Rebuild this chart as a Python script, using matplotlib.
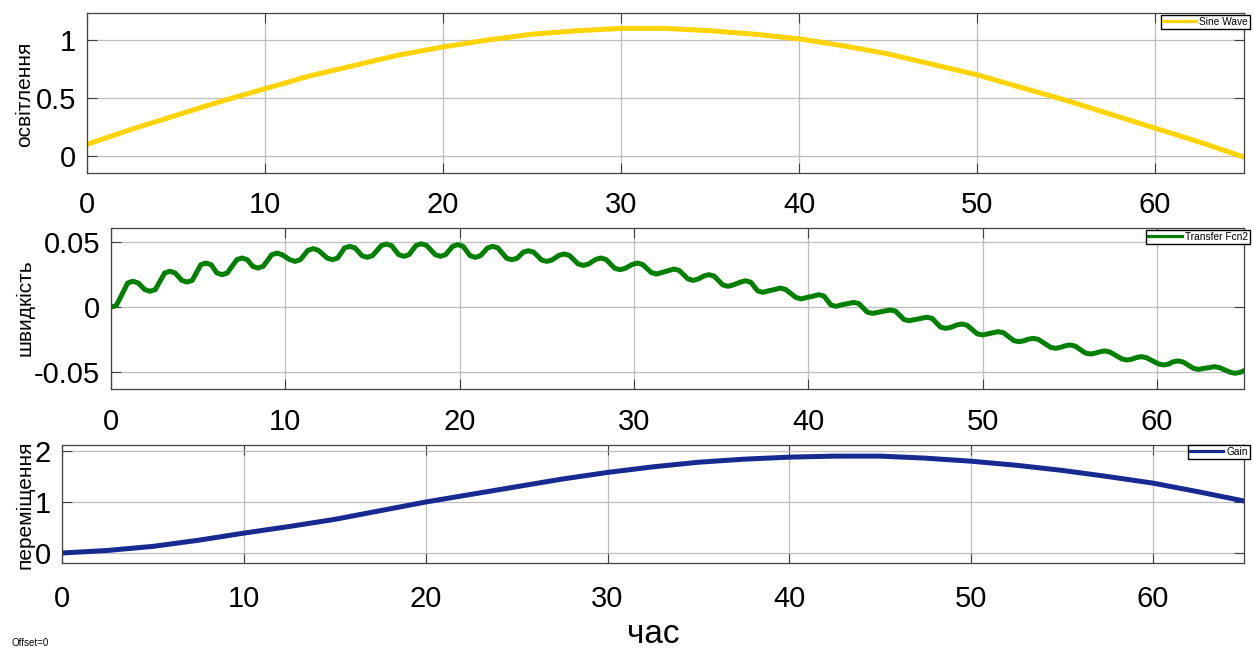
import numpy as np
import matplotlib
matplotlib.use("Agg")
import matplotlib.pyplot as plt

plt.rcParams["font.family"] = ["Liberation Sans", "DejaVu Sans"]

# illumination (Sine Wave), read every 2.5 time units
light_t = np.arange(0, 65.1, 2.5)
light_v = [0.10, 0.23, 0.35, 0.47, 0.58, 0.69, 0.78, 0.87, 0.94, 1.00,
           1.05, 1.08, 1.10, 1.10, 1.08, 1.05, 1.01, 0.95, 0.88, 0.79,
           0.70, 0.59, 0.48, 0.36, 0.24, 0.12, -0.01]

# speed (Transfer Fcn2): ripple peaks/troughs with their shoulders
speed_pts = [
    (0.0, 0.0), (0.3, 0.001),
    (0.96, 0.0185), (1.26, 0.0198), (1.56, 0.0185),
    (1.94, 0.0134), (2.24, 0.0121), (2.54, 0.0134),
    (3.08, 0.0262), (3.38, 0.0275), (3.68, 0.0262),
    (4.06, 0.0205), (4.36, 0.0192), (4.66, 0.0205),
    (5.15, 0.0325), (5.45, 0.0338), (5.75, 0.0325),
    (6.07, 0.0262), (6.37, 0.0249), (6.67, 0.0262),
    (7.22, 0.0364), (7.52, 0.0377), (7.82, 0.0364),
    (8.13, 0.0313), (8.43, 0.0300), (8.73, 0.0313),
    (9.22, 0.0402), (9.52, 0.0415), (9.82, 0.0402),
    (10.26, 0.0364), (10.56, 0.0351), (10.86, 0.0364),
    (11.3, 0.0436), (11.6, 0.0449), (11.9, 0.0436),
    (12.4, 0.0377), (12.7, 0.0364), (13.0, 0.0377),
    (13.4, 0.0454), (13.7, 0.0467), (14.0, 0.0454),
    (14.4, 0.0395), (14.7, 0.0382), (15.0, 0.0395),
    (15.5, 0.0472), (15.8, 0.0485), (16.1, 0.0472),
    (16.5, 0.0403), (16.8, 0.0390), (17.1, 0.0403),
    (17.5, 0.0474), (17.8, 0.0487), (18.1, 0.0474),
    (18.6, 0.0403), (18.9, 0.0390), (19.2, 0.0403),
    (19.6, 0.0467), (19.9, 0.0480), (20.2, 0.0467),
    (20.6, 0.0395), (20.9, 0.0382), (21.2, 0.0395),
    (21.6, 0.0454), (21.9, 0.0467), (22.2, 0.0454),
    (22.7, 0.0375), (23.0, 0.0364), (23.3, 0.0375),
    (23.65, 0.0422), (23.95, 0.0433), (24.25, 0.0422),
    (24.7, 0.0362), (25.0, 0.0351), (25.3, 0.0362),
    (25.7, 0.0397), (26.0, 0.0408), (26.3, 0.0397),
    (26.8, 0.0331), (27.1, 0.0320), (27.4, 0.0331),
    (27.8, 0.0366), (28.1, 0.0377), (28.4, 0.0366),
    (28.9, 0.0298), (29.2, 0.0287), (29.5, 0.0298),
    (29.9, 0.0327), (30.2, 0.0338), (30.5, 0.0327),
    (31.0, 0.0265), (31.3, 0.0254), (31.6, 0.0265),
    (32.0, 0.0281), (32.3, 0.0292), (32.6, 0.0281),
    (33.1, 0.0216), (33.4, 0.0205), (33.7, 0.0216),
    (34.0, 0.0238), (34.3, 0.0249), (34.6, 0.0238),
    (35.1, 0.0170), (35.4, 0.0159), (35.7, 0.0170),
    (36.1, 0.0191), (36.4, 0.0202), (36.7, 0.0191),
    (37.1, 0.0124), (37.4, 0.0113), (37.7, 0.0124),
    (38.1, 0.0135), (38.4, 0.0146), (38.7, 0.0135),
    (39.3, 0.0073), (39.6, 0.0062), (39.9, 0.0073),
    (40.3, 0.0084), (40.6, 0.0095), (40.9, 0.0084),
    (41.3, 0.0016), (41.6, 0.0005), (41.9, 0.0016),
    (42.3, 0.0027), (42.6, 0.0035), (42.9, 0.0027),
    (43.4, -0.0041), (43.7, -0.0049), (44.0, -0.0041),
    (44.4, -0.0031), (44.7, -0.0023), (45.0, -0.0031),
    (45.5, -0.0097), (45.8, -0.0105), (46.1, -0.0097),
    (46.5, -0.0087), (46.8, -0.0079), (47.1, -0.0087),
    (47.6, -0.0156), (47.9, -0.0164), (48.2, -0.0156),
    (48.5, -0.0139), (48.8, -0.0131), (49.1, -0.0139),
    (49.7, -0.0207), (50.0, -0.0215), (50.3, -0.0207),
    (50.6, -0.0198), (50.9, -0.0190), (51.2, -0.0198),
    (51.8, -0.0259), (52.1, -0.0267), (52.4, -0.0259),
    (52.6, -0.0249), (52.9, -0.0241), (53.2, -0.0249),
    (53.9, -0.0310), (54.2, -0.0318), (54.5, -0.0310),
    (54.7, -0.0300), (55.0, -0.0292), (55.3, -0.0300),
    (55.9, -0.0354), (56.2, -0.0362), (56.5, -0.0354),
    (56.7, -0.0346), (57.0, -0.0338), (57.3, -0.0346),
    (58.0, -0.0400), (58.3, -0.0408), (58.6, -0.0400),
    (58.8, -0.0390), (59.1, -0.0382), (59.4, -0.0390),
    (60.1, -0.0438), (60.4, -0.0446), (60.7, -0.0438),
    (60.9, -0.0423), (61.2, -0.0415), (61.5, -0.0423),
    (62.1, -0.0472), (62.4, -0.0480), (62.7, -0.0472),
    (63.0, -0.0467), (63.3, -0.0459), (63.6, -0.0467),
    (64.2, -0.0502), (64.5, -0.0510), (64.8, -0.0502),
    (65.0, -0.0490),
]

# displacement (Gain), read every 2.5 time units
disp_t = np.arange(0, 65.1, 2.5)
disp_v = [0.0, 0.05, 0.13, 0.25, 0.39, 0.52, 0.66, 0.83, 1.00, 1.15,
          1.30, 1.45, 1.58, 1.69, 1.78, 1.84, 1.88, 1.90, 1.90, 1.86,
          1.80, 1.72, 1.62, 1.50, 1.37, 1.20, 1.02]

x_ticks = [0, 10, 20, 30, 40, 50, 60]

W, H = 1254, 648
fig = plt.figure(figsize=(W / 100, H / 100), dpi=100)


def px_axes(left, top, right, bottom):
    return fig.add_axes([left / W, 1 - bottom / H, (right - left) / W, (bottom - top) / H])


def style(ax, ylim, yticks, yticklabels, xpad):
    ax.set_xlim(0, 65)
    ax.set_ylim(*ylim)
    ax.set_xticks(x_ticks)
    ax.set_yticks(yticks)
    ax.set_yticklabels(yticklabels)
    ax.grid(True, color="#bdbdbd", linewidth=0.9)
    ax.set_axisbelow(True)
    ax.tick_params(direction="in", length=7, width=0.8, color="#404040",
                   labelsize=21, top=True, right=True)
    ax.tick_params(axis="x", pad=xpad)
    ax.tick_params(axis="y", pad=8)
    for s in ax.spines.values():
        s.set_color("#404040")
        s.set_linewidth(0.9)


def add_legend(ax, right, top):
    leg = ax.legend(loc="upper right", bbox_to_anchor=(right / W, 1 - top / H),
                    bbox_transform=fig.transFigure, fontsize=7.3, handlelength=3.3,
                    borderpad=0.2, handletextpad=0.3, borderaxespad=0,
                    fancybox=False, edgecolor="black", framealpha=1)
    for line in leg.get_lines():
        line.set_linewidth(2.3)


def side_label(text, y_px):
    fig.text(25 / W, 1 - y_px / H, text, rotation=90, ha="center", va="center", fontsize=15)


ax1 = px_axes(87, 13, 1244, 173)
ax1.plot(light_t, light_v, color="#ffd400", linewidth=3.6, label="Sine Wave",
         solid_joinstyle="round")
style(ax1, (-0.147, 1.233), [0, 0.5, 1], ["0", "0.5", "1"], 13)
add_legend(ax1, 1250, 15)
side_label("освітлення", 94)

speed_t = [p[0] for p in speed_pts]
speed_v = [p[1] for p in speed_pts]
ax2 = px_axes(111, 228, 1244, 389)
ax2.plot(speed_t, speed_v, color="#008000", linewidth=3.6, label="Transfer Fcn2",
         solid_joinstyle="round")
style(ax2, (-0.0631, 0.0608), [-0.05, 0, 0.05], ["-0.05", "0", "0.05"], 14)
add_legend(ax2, 1250, 230)
side_label("швидкість", 308)

ax3 = px_axes(62, 445, 1244, 563)
ax3.plot(disp_t, disp_v, color="#172a8f", linewidth=3.6, label="Gain",
         solid_joinstyle="round")
style(ax3, (-0.196, 2.118), [0, 1, 2], ["0", "1", "2"], 16)
add_legend(ax3, 1250, 445)
side_label("переміщення", 505)
ax3.set_xlabel("час", fontsize=24)
ax3.xaxis.set_label_coords(0.5, (563 - 619) / 118)

fig.text(11 / W, 1 - 646 / H, "Offset=0", fontsize=7, ha="left", va="baseline")

fig.savefig("out.png", dpi=100)
